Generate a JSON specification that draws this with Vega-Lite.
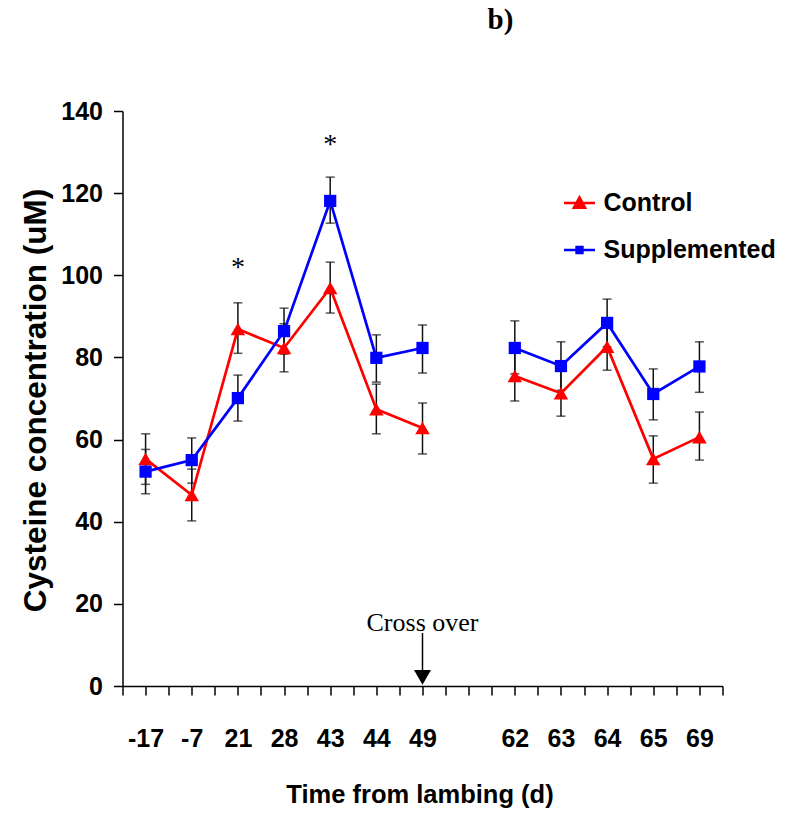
{
  "$schema": "https://vega.github.io/schema/vega-lite/v6.json",
  "width": 600,
  "height": 575,
  "autosize": {"type": "none"},
  "padding": {"left": 122.5, "top": 111, "right": 66.5, "bottom": 133},
  "background": "white",
  "title": {"text": "b)", "font": "Liberation Serif", "fontSize": 29, "fontWeight": "bold", "color": "black", "anchor": "start", "frame": "group", "dx": 365, "offset": 41, "baseline": "alphabetic"},
  "config": {
    "view": {"stroke": null},
    "axis": {"grid": false, "domainColor": "black", "tickColor": "black", "labelColor": "black", "titleColor": "black", "domainWidth": 1.5, "tickWidth": 1.5}
  },
  "datasets": {
    "main": [
      {"pos": 1, "day": "-17", "group": "Control", "seg": "a", "value": 55.3, "lo": 49.1, "hi": 61.4},
      {"pos": 3, "day": "-7", "group": "Control", "seg": "a", "value": 46.5, "lo": 40.2, "hi": 52.8},
      {"pos": 5, "day": "21", "group": "Control", "seg": "a", "value": 86.9, "lo": 81.0, "hi": 93.3},
      {"pos": 7, "day": "28", "group": "Control", "seg": "a", "value": 82.3, "lo": 76.5, "hi": 88.2},
      {"pos": 9, "day": "43", "group": "Control", "seg": "a", "value": 96.9, "lo": 90.8, "hi": 103.2},
      {"pos": 11, "day": "44", "group": "Control", "seg": "a", "value": 67.4, "lo": 61.4, "hi": 73.5},
      {"pos": 13, "day": "49", "group": "Control", "seg": "a", "value": 62.8, "lo": 56.5, "hi": 68.9},
      {"pos": 17, "day": "62", "group": "Control", "seg": "b", "value": 75.5, "lo": 69.4, "hi": 81.6},
      {"pos": 19, "day": "63", "group": "Control", "seg": "b", "value": 71.3, "lo": 65.7, "hi": 76.9},
      {"pos": 21, "day": "64", "group": "Control", "seg": "b", "value": 82.6, "lo": 76.9, "hi": 88.3},
      {"pos": 23, "day": "65", "group": "Control", "seg": "b", "value": 55.3, "lo": 49.4, "hi": 60.9},
      {"pos": 25, "day": "69", "group": "Control", "seg": "b", "value": 60.6, "lo": 55.0, "hi": 66.7},
      {"pos": 1, "day": "-17", "group": "Supplemented", "seg": "a", "value": 52.2, "lo": 46.8, "hi": 57.6},
      {"pos": 3, "day": "-7", "group": "Supplemented", "seg": "a", "value": 55.0, "lo": 49.4, "hi": 60.4},
      {"pos": 5, "day": "21", "group": "Supplemented", "seg": "a", "value": 70.1, "lo": 64.5, "hi": 75.7},
      {"pos": 7, "day": "28", "group": "Supplemented", "seg": "a", "value": 86.4, "lo": 80.8, "hi": 92.0},
      {"pos": 9, "day": "43", "group": "Supplemented", "seg": "a", "value": 118.1, "lo": 112.7, "hi": 123.9},
      {"pos": 11, "day": "44", "group": "Supplemented", "seg": "a", "value": 79.9, "lo": 74.0, "hi": 85.5},
      {"pos": 13, "day": "49", "group": "Supplemented", "seg": "a", "value": 82.3, "lo": 76.2, "hi": 87.9},
      {"pos": 17, "day": "62", "group": "Supplemented", "seg": "b", "value": 82.3, "lo": 76.0, "hi": 88.9},
      {"pos": 19, "day": "63", "group": "Supplemented", "seg": "b", "value": 77.9, "lo": 72.0, "hi": 83.8},
      {"pos": 21, "day": "64", "group": "Supplemented", "seg": "b", "value": 88.4, "lo": 82.6, "hi": 94.2},
      {"pos": 23, "day": "65", "group": "Supplemented", "seg": "b", "value": 71.1, "lo": 64.8, "hi": 77.2},
      {"pos": 25, "day": "69", "group": "Supplemented", "seg": "b", "value": 77.8, "lo": 71.5, "hi": 83.8}
    ],
    "stars": [
      {"pos": 5, "value": 99.8, "label": "*"},
      {"pos": 9, "value": 129.8, "label": "*"}
    ],
    "note": [
      {"pos": 13, "value": 13.4, "label": "Cross over"}
    ],
    "arrow": [
      {"pos": 13, "value": 12.9, "value2": 3.0}
    ],
    "arrowhead": [
      {"pos": 13, "value": 2.1}
    ]
  },
  "layer": [
    {
      "data": {"name": "main"},
      "mark": {"type": "rule", "color": "#111111", "strokeWidth": 1.5},
      "encoding": {
        "x": {"field": "pos", "type": "quantitative",
              "scale": {"domain": [0, 26], "nice": false, "zero": false},
              "axis": {"values": [0,1,2,3,4,5,6,7,8,9,10,11,12,13,14,15,16,17,18,19,20,21,22,23,24,25,26],
                       "tickCount": 27,
                       "labelExpr": "datum.value == 1 ? '-17' : datum.value == 3 ? '-7' : datum.value == 5 ? '21' : datum.value == 7 ? '28' : datum.value == 9 ? '43' : datum.value == 11 ? '44' : datum.value == 13 ? '49' : datum.value == 17 ? '62' : datum.value == 19 ? '63' : datum.value == 21 ? '64' : datum.value == 23 ? '65' : datum.value == 25 ? '69' : ''",
                       "tickSize": 9, "labelPadding": 31, "labelFont": "Liberation Sans", "labelFontSize": 25, "labelFontWeight": "bold",
                       "labelBaseline": "top", "labelFlush": false, "labelOverlap": false,
                       "title": "Time from lambing (d)", "titleFont": "Liberation Sans", "titleFontSize": 25.5, "titleFontWeight": "bold",
                       "titleX": 297, "titleY": 116, "titleBaseline": "alphabetic", "titleAlign": "center"}},
        "y": {"field": "lo", "type": "quantitative",
              "scale": {"domain": [0, 140], "nice": false},
              "axis": {"values": [0, 20, 40, 60, 80, 100, 120, 140], "tickSize": 9, "labelPadding": 11,
                       "labelFont": "Liberation Sans", "labelFontSize": 25, "labelFontWeight": "bold",
                       "title": "Cysteine concentration (uM)", "titleFont": "Liberation Sans", "titleFontSize": 31.5, "titleFontWeight": "bold",
                       "titleAngle": -90, "titleX": -77, "titleY": 289, "titleAlign": "center", "titleBaseline": "alphabetic"}},
        "y2": {"field": "hi"}
      }
    },
    {
      "data": {"name": "main"},
      "mark": {"type": "tick", "orient": "horizontal", "size": 9, "thickness": 1.5, "color": "#111111"},
      "encoding": {
        "x": {"field": "pos", "type": "quantitative"},
        "y": {"field": "lo", "type": "quantitative"}
      }
    },
    {
      "data": {"name": "main"},
      "mark": {"type": "tick", "orient": "horizontal", "size": 9, "thickness": 1.5, "color": "#111111"},
      "encoding": {
        "x": {"field": "pos", "type": "quantitative"},
        "y": {"field": "hi", "type": "quantitative"}
      }
    },
    {
      "data": {"name": "main"},
      "mark": {"type": "line", "strokeWidth": 2.7},
      "encoding": {
        "x": {"field": "pos", "type": "quantitative"},
        "y": {"field": "value", "type": "quantitative"},
        "detail": {"field": "seg"},
        "color": {"field": "group", "type": "nominal",
                  "scale": {"domain": ["Control", "Supplemented"], "range": ["#ff0000", "#0000ff"]},
                  "legend": {"orient": "none", "legendX": 440, "legendY": 75, "title": null, "padding": 0,
                             "labelFont": "Liberation Sans", "labelFontSize": 25, "labelFontWeight": "bold", "labelColor": "black",
                             "labelLimit": 400, "labelOffset": 7, "rowPadding": 17, "symbolSize": 961, "symbolStrokeWidth": 2.5,
                             "encode": {"symbols": {"update": {
                               "shape": {"signal": "datum.value === 'Control' ? 'M-1,0H1M-0.36,0.3L0,-0.36L0.36,0.3Z' : 'M-1,0H1M-0.19,-0.19H0.19V0.19H-0.19Z'"},
                               "fill": {"signal": "datum.value === 'Control' ? '#ff0000' : '#0000ff'"},
                               "stroke": {"signal": "datum.value === 'Control' ? '#ff0000' : '#0000ff'"},
                               "strokeWidth": {"value": 2.5},
                               "opacity": {"value": 1},
                               "fillOpacity": {"value": 1}
                             }}}}}
      }
    },
    {
      "data": {"name": "main"},
      "transform": [{"filter": "datum.group === 'Control'"}],
      "mark": {"type": "point", "shape": "triangle-up", "filled": true, "opacity": 1, "size": 210},
      "encoding": {
        "x": {"field": "pos", "type": "quantitative"},
        "y": {"field": "value", "type": "quantitative"},
        "color": {"field": "group", "type": "nominal"}
      }
    },
    {
      "data": {"name": "main"},
      "transform": [{"filter": "datum.group === 'Supplemented'"}],
      "mark": {"type": "point", "shape": "square", "filled": true, "opacity": 1, "size": 150},
      "encoding": {
        "x": {"field": "pos", "type": "quantitative"},
        "y": {"field": "value", "type": "quantitative"},
        "color": {"field": "group", "type": "nominal"}
      }
    },
    {
      "data": {"name": "stars"},
      "mark": {"type": "text", "font": "Liberation Serif", "fontSize": 28, "color": "black", "align": "center", "baseline": "alphabetic"},
      "encoding": {
        "x": {"field": "pos", "type": "quantitative"},
        "y": {"field": "value", "type": "quantitative"},
        "text": {"field": "label"}
      }
    },
    {
      "data": {"name": "note"},
      "mark": {"type": "text", "font": "Liberation Serif", "fontSize": 26, "color": "black", "align": "center", "baseline": "alphabetic"},
      "encoding": {
        "x": {"field": "pos", "type": "quantitative"},
        "y": {"field": "value", "type": "quantitative"},
        "text": {"field": "label"}
      }
    },
    {
      "data": {"name": "arrow"},
      "mark": {"type": "rule", "color": "black", "strokeWidth": 1.5},
      "encoding": {
        "x": {"field": "pos", "type": "quantitative"},
        "y": {"field": "value", "type": "quantitative"},
        "y2": {"field": "value2"}
      }
    },
    {
      "data": {"name": "arrowhead"},
      "mark": {"type": "point", "shape": "triangle-down", "filled": true, "color": "black", "opacity": 1, "size": 289},
      "encoding": {
        "x": {"field": "pos", "type": "quantitative"},
        "y": {"field": "value", "type": "quantitative"}
      }
    }
  ]
}
